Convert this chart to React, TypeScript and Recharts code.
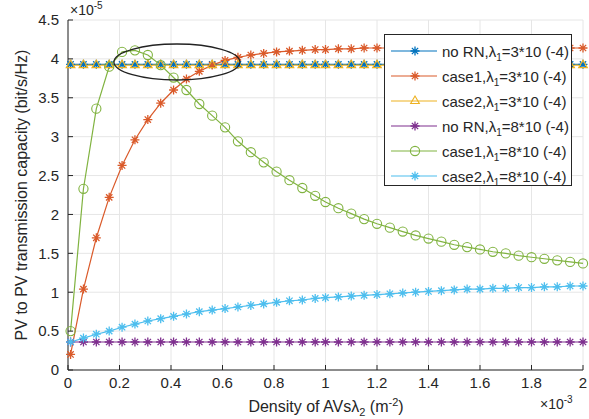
import React from "react";
import { LineChart, Line, XAxis, YAxis, CartesianGrid, ReferenceDot } from "recharts";

// density of AVs, in units of 1e-3 m^-2
const X_VALUES = [
  0.01, 0.06, 0.11, 0.16, 0.21, 0.26, 0.31, 0.36, 0.41, 0.46,
  0.51, 0.56, 0.61, 0.66, 0.71, 0.76, 0.81, 0.86, 0.91, 0.96,
  1.0, 1.05, 1.1, 1.15, 1.2, 1.25, 1.3, 1.35, 1.4, 1.45,
  1.5, 1.55, 1.6, 1.65, 1.7, 1.75, 1.8, 1.85, 1.9, 1.95, 2.0,
];

// capacities, in units of 1e-5 bit/s/Hz
const NO_RN_3 = [
  3.93, 3.93, 3.93, 3.93, 3.93, 3.93, 3.93, 3.93, 3.93, 3.93,
  3.93, 3.93, 3.93, 3.93, 3.93, 3.93, 3.93, 3.93, 3.93, 3.93,
  3.93, 3.93, 3.93, 3.93, 3.93, 3.93, 3.93, 3.93, 3.93, 3.93,
  3.93, 3.93, 3.93, 3.93, 3.93, 3.93, 3.93, 3.93, 3.93, 3.93, 3.93,
];
const CASE1_3 = [
  0.2, 1.04, 1.7, 2.22, 2.63, 2.96, 3.22, 3.43, 3.6, 3.74,
  3.84, 3.92, 3.98, 4.02, 4.05, 4.07, 4.09, 4.1, 4.11, 4.12,
  4.12, 4.13, 4.13, 4.14, 4.14, 4.14, 4.14, 4.14, 4.14, 4.14,
  4.14, 4.14, 4.14, 4.14, 4.14, 4.14, 4.14, 4.14, 4.14, 4.14, 4.14,
];
const CASE2_3 = [
  3.92, 3.92, 3.92, 3.92, 3.92, 3.92, 3.92, 3.92, 3.92, 3.92,
  3.92, 3.92, 3.92, 3.92, 3.92, 3.92, 3.92, 3.92, 3.92, 3.92,
  3.92, 3.92, 3.92, 3.92, 3.92, 3.92, 3.92, 3.92, 3.92, 3.92,
  3.92, 3.92, 3.92, 3.92, 3.92, 3.92, 3.92, 3.92, 3.92, 3.92, 3.92,
];
const NO_RN_8 = [
  0.36, 0.36, 0.36, 0.36, 0.36, 0.36, 0.36, 0.36, 0.36, 0.36,
  0.36, 0.36, 0.36, 0.36, 0.36, 0.36, 0.36, 0.36, 0.36, 0.36,
  0.36, 0.36, 0.36, 0.36, 0.36, 0.36, 0.36, 0.36, 0.36, 0.36,
  0.36, 0.36, 0.36, 0.36, 0.36, 0.36, 0.36, 0.36, 0.36, 0.36, 0.36,
];
const CASE1_8 = [
  0.5, 2.33, 3.36, 3.9, 4.09, 4.11, 4.05, 3.92, 3.76, 3.6,
  3.42, 3.27, 3.12, 2.94, 2.8, 2.67, 2.55, 2.44, 2.34, 2.24,
  2.16, 2.08, 2.01, 1.94, 1.88, 1.83, 1.78, 1.73, 1.69, 1.65,
  1.61, 1.58, 1.55, 1.52, 1.5, 1.47, 1.45, 1.43, 1.41, 1.39, 1.37,
];
const CASE2_8 = [
  0.36, 0.41, 0.46, 0.5, 0.55, 0.59, 0.63, 0.66, 0.69, 0.72,
  0.75, 0.77, 0.79, 0.81, 0.83, 0.85, 0.87, 0.89, 0.9, 0.92,
  0.93, 0.94, 0.95, 0.96, 0.97, 0.98, 0.99, 1.0, 1.01, 1.02,
  1.03, 1.04, 1.04, 1.05, 1.05, 1.06, 1.06, 1.07, 1.07, 1.08, 1.08,
];

const X_TICKS = [0, 0.2, 0.4, 0.6, 0.8, 1, 1.2, 1.4, 1.6, 1.8, 2];
const Y_TICKS = [0, 0.5, 1, 1.5, 2, 2.5, 3, 3.5, 4, 4.5];

const SERIES = [
  { key: "noRn3", label: "no RN,", lam: "3*10 (-4)", color: "#0072BD", marker: "star", values: NO_RN_3 },
  { key: "case13", label: "case1,", lam: "3*10 (-4)", color: "#DA5A2A", marker: "star", values: CASE1_3 },
  { key: "case23", label: "case2,", lam: "3*10 (-4)", color: "#EDB120", marker: "triangle", values: CASE2_3 },
  { key: "noRn8", label: "no RN,", lam: "8*10 (-4)", color: "#7E2F8E", marker: "star", values: NO_RN_8 },
  { key: "case18", label: "case1,", lam: "8*10 (-4)", color: "#80B340", marker: "circle", values: CASE1_8 },
  { key: "case28", label: "case2,", lam: "8*10 (-4)", color: "#4DBEEE", marker: "star", values: CASE2_8 },
];

const data = X_VALUES.map((x, i) => {
  const row: Record<string, number> = { x };
  SERIES.forEach((s) => {
    row[s.key] = s.values[i];
  });
  return row;
});

const FONT = '"Liberation Sans", Arial, sans-serif';
const INK = "#262626";

function Marker({ type, cx, cy, color }: { type: string; cx: number; cy: number; color: string }) {
  if (cx == null || cy == null) return null;
  if (type === "circle") {
    return <circle cx={cx} cy={cy} r={4.6} fill="none" stroke={color} strokeWidth={1.1} />;
  }
  if (type === "triangle") {
    const r = 5;
    return (
      <polygon
        points={`${cx},${cy - r} ${cx + r * 0.87},${cy + r * 0.5} ${cx - r * 0.87},${cy + r * 0.5}`}
        fill="none"
        stroke={color}
        strokeWidth={1.1}
      />
    );
  }
  const r = 4.5;
  const d = r * 0.7;
  return (
    <path
      d={`M${cx - r},${cy}H${cx + r}M${cx},${cy - r}V${cy + r}M${cx - d},${cy - d}L${cx + d},${cy + d}M${cx - d},${cy + d}L${cx + d},${cy - d}`}
      stroke={color}
      strokeWidth={1.3}
      fill="none"
    />
  );
}

function Legend() {
  return (
    <div
      style={{
        position: "absolute",
        left: 384,
        top: 34,
        width: 188,
        height: 152,
        background: "#fff",
        border: `1px solid ${INK}`,
        boxSizing: "border-box",
        fontFamily: FONT,
        fontSize: 15,
        color: INK,
      }}
    >
      {SERIES.map((s, i) => (
        <div
          key={s.key}
          style={{ position: "absolute", left: 0, top: 6 + i * 25, height: 20, display: "flex", alignItems: "center", whiteSpace: "nowrap" }}
        >
          <svg width={57} height={20} style={{ display: "block" }}>
            <line x1={6} x2={52} y1={10} y2={10} stroke={s.color} strokeWidth={1.2} />
            <Marker type={s.marker} cx={30} cy={10} color={s.color} />
          </svg>
          <span>
            {s.label}λ<span style={{ fontSize: 10, position: "relative", top: 4 }}>1</span>={s.lam}
          </span>
        </div>
      ))}
    </div>
  );
}

export default function App() {
  return (
    <div style={{ position: "absolute", left: 0, top: 0, width: 589, height: 419, background: "#fff" }}>
      <LineChart width={589} height={419} data={data} margin={{ top: 20, right: 6, bottom: 0, left: 0 }}>
        <CartesianGrid stroke="#e6e6e6" strokeWidth={1} />
        <XAxis
          dataKey="x"
          type="number"
          domain={[0, 2]}
          ticks={X_TICKS}
          height={49}
          stroke={INK}
          tickSize={-5}
          tickMargin={12}
          tick={{ fill: INK, fontSize: 15, fontFamily: FONT }}
        />
        <XAxis
          xAxisId="top"
          dataKey="x"
          type="number"
          orientation="top"
          domain={[0, 2]}
          ticks={X_TICKS}
          height={0}
          stroke={INK}
          tickSize={-5}
          tick={false}
        />
        <YAxis
          type="number"
          domain={[0, 4.5]}
          ticks={Y_TICKS}
          width={68}
          stroke={INK}
          tickSize={-5}
          tickMargin={14}
          tick={{ fill: INK, fontSize: 15, fontFamily: FONT }}
        />
        <YAxis
          yAxisId="right"
          type="number"
          orientation="right"
          domain={[0, 4.5]}
          ticks={Y_TICKS}
          width={0}
          stroke={INK}
          tickSize={-5}
          tick={false}
        />
        {SERIES.map((s) => (
          <Line
            key={s.key}
            dataKey={s.key}
            stroke={s.color}
            strokeWidth={1.2}
            isAnimationActive={false}
            dot={(p: any) => <Marker key={`${s.key}-${p.index}`} type={s.marker} cx={p.cx} cy={p.cy} color={s.color} />}
            activeDot={false}
          />
        ))}
        <ReferenceDot
          x={0.423}
          y={3.96}
          r={1}
          shape={(p: any) => <ellipse cx={p.cx} cy={p.cy} rx={63} ry={18} fill="none" stroke="#222" strokeWidth={1.3} />}
        />
      </LineChart>
      <Legend />
      <div style={{ position: "absolute", left: 70, top: 2, fontFamily: FONT, fontSize: 14, color: INK }}>
        ×10<span style={{ fontSize: 10, position: "relative", top: -6 }}>-5</span>
      </div>
      <div style={{ position: "absolute", left: 540, top: 396, fontFamily: FONT, fontSize: 14, color: INK }}>
        ×10<span style={{ fontSize: 10, position: "relative", top: -6 }}>-3</span>
      </div>
      <div
        style={{
          position: "absolute",
          left: 326,
          top: 398,
          transform: "translateX(-50%)",
          fontFamily: FONT,
          fontSize: 16,
          color: INK,
          whiteSpace: "nowrap",
        }}
      >
        Density of AVsλ<span style={{ fontSize: 11, position: "relative", top: 4 }}>2</span> (m
        <span style={{ fontSize: 11, position: "relative", top: -6 }}>-2</span>)
      </div>
      <div
        style={{
          position: "absolute",
          left: 22,
          top: 195,
          transform: "translate(-50%, -50%) rotate(-90deg)",
          fontFamily: FONT,
          fontSize: 16,
          color: INK,
          whiteSpace: "nowrap",
        }}
      >
        PV to PV transmission capacity (bit/s/Hz)
      </div>
    </div>
  );
}
